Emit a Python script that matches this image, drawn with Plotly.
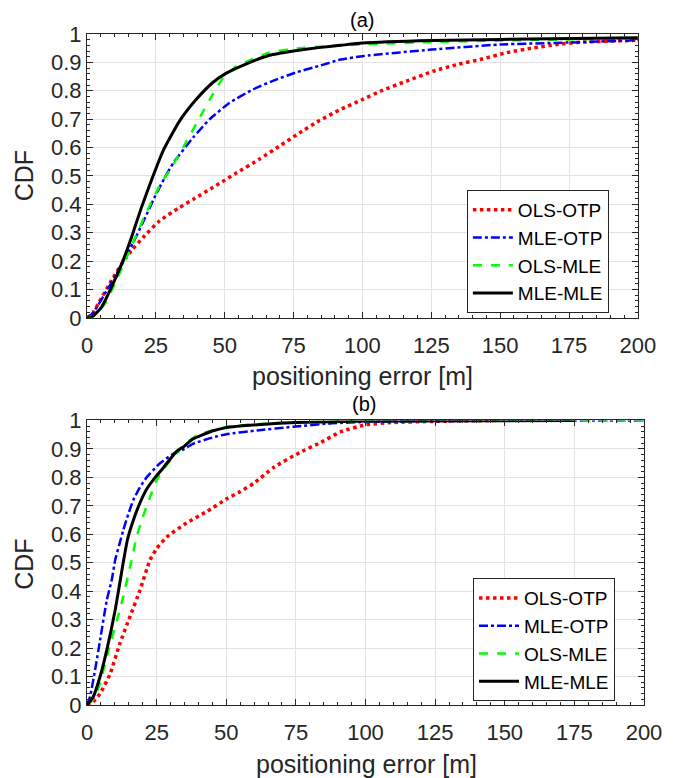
import plotly.graph_objects as go

# ---- (a) ----
a_ols_otp_x = [0, 2, 4.1, 8.9, 12.6, 16.2, 21, 26.4, 33, 39, 45.8, 50, 54.2, 62.7, 69.9, 77.2, 84.4, 91.8, 100, 106.4, 116, 125.7, 134.2, 142.7, 152.3, 162, 170.5, 179, 200]
a_ols_otp_y = [0, 0.015, 0.05, 0.132, 0.19, 0.238, 0.29, 0.342, 0.385, 0.42, 0.46, 0.485, 0.51, 0.56, 0.605, 0.652, 0.695, 0.733, 0.769, 0.798, 0.834, 0.869, 0.892, 0.91, 0.934, 0.951, 0.963, 0.971, 0.978]

a_mle_otp_x = [0, 2, 6.5, 11.4, 16.5, 20.5, 24.8, 28, 31.3, 38.5, 44.6, 51.8, 60.3, 67.5, 76, 84.4, 92, 100, 125, 150, 175, 200]
a_mle_otp_y = [0, 0.015, 0.085, 0.167, 0.26, 0.34, 0.43, 0.49, 0.545, 0.635, 0.70, 0.758, 0.805, 0.835, 0.865, 0.888, 0.91, 0.922, 0.945, 0.963, 0.97, 0.978]

a_ols_mle_x = [0, 3, 6.5, 10.1, 13.8, 17.4, 21, 25, 27.5, 30.1, 34.9, 40.9, 45.8, 49.4, 54.2, 60.3, 66.3, 75, 87, 100, 125, 150, 200]
a_ols_mle_y = [0, 0.01, 0.05, 0.12, 0.2, 0.28, 0.36, 0.44, 0.485, 0.52, 0.6, 0.705, 0.79, 0.845, 0.886, 0.912, 0.935, 0.948, 0.957, 0.963, 0.972, 0.977, 0.985]

a_mle_mle_x = [0, 1.7, 5.3, 8.9, 12.6, 16.2, 19.8, 23.6, 27.7, 33.7, 39.7, 45.8, 50.6, 57.9, 66.3, 75, 84, 92, 100, 125, 150, 200]
a_mle_mle_y = [0, 0.002, 0.038, 0.108, 0.19, 0.285, 0.39, 0.49, 0.59, 0.695, 0.77, 0.83, 0.862, 0.895, 0.925, 0.94, 0.952, 0.96, 0.968, 0.977, 0.981, 0.987]

# ---- (b) ----
b_ols_otp_x = [0, 1.5, 4.7, 8.3, 11.8, 15.4, 19, 22.6, 25, 28.6, 35.8, 43, 50.2, 55, 60, 67, 76.5, 84, 91, 100, 110, 125, 147]
b_ols_otp_y = [0, 0.005, 0.04, 0.11, 0.216, 0.31, 0.403, 0.509, 0.55, 0.59, 0.64, 0.68, 0.725, 0.75, 0.78, 0.835, 0.888, 0.923, 0.96, 0.985, 0.993, 0.997, 1.0]

b_mle_otp_x = [0, 1.1, 2.9, 4.7, 7.1, 8.9, 10.1, 11.5, 13, 14.8, 16.6, 19, 21.4, 26, 31, 35, 38, 45, 50, 61, 74, 88, 100, 125, 150, 200]
b_mle_otp_y = [0, 0.03, 0.123, 0.228, 0.368, 0.44, 0.509, 0.56, 0.614, 0.67, 0.72, 0.765, 0.80, 0.848, 0.883, 0.90, 0.918, 0.94, 0.952, 0.965, 0.978, 0.99, 0.995, 0.998, 0.999, 1.0]

b_ols_mle_x = [0, 2.3, 4.7, 7.7, 10.1, 13, 16, 17.8, 20, 22.6, 25, 27.5, 30, 35, 40, 50, 62.5, 75, 100, 150, 200]
b_ols_mle_y = [0, 0.02, 0.077, 0.193, 0.275, 0.38, 0.509, 0.59, 0.66, 0.73, 0.79, 0.83, 0.86, 0.915, 0.95, 0.977, 0.988, 0.994, 0.998, 0.999, 1.0]

b_mle_mle_x = [0, 2.3, 4.7, 7.1, 10.1, 13, 14.5, 16.3, 19, 21.5, 24.5, 27.5, 32, 35, 38, 45, 50, 62.5, 75, 100, 125, 175]
b_mle_mle_y = [0, 0.03, 0.1, 0.193, 0.333, 0.5, 0.58, 0.64, 0.71, 0.76, 0.8, 0.835, 0.89, 0.91, 0.935, 0.963, 0.975, 0.986, 0.993, 0.998, 0.999, 1.0]

x_ticks = [0, 25, 50, 75, 100, 125, 150, 175, 200]
y_ticks = [0, 0.1, 0.2, 0.3, 0.4, 0.5, 0.6, 0.7, 0.8, 0.9, 1]
y_tick_labels = ["0", "0.1", "0.2", "0.3", "0.4", "0.5", "0.6", "0.7", "0.8", "0.9", "1"]

names = ["OLS-OTP", "MLE-OTP", "OLS-MLE", "MLE-MLE"]
colors = ["#ff0000", "#0000ff", "#00ff00", "#000000"]
dashes = ["dot", "dashdot", "dash", "solid"]
widths = [3.5, 2.5, 2.5, 3]

FONT = "Liberation Sans, Arial, Helvetica, sans-serif"
INK = "#262626"

fig = go.Figure()

series_a = [(a_ols_otp_x, a_ols_otp_y), (a_mle_otp_x, a_mle_otp_y),
            (a_ols_mle_x, a_ols_mle_y), (a_mle_mle_x, a_mle_mle_y)]
series_b = [(b_ols_otp_x, b_ols_otp_y), (b_mle_otp_x, b_mle_otp_y),
            (b_ols_mle_x, b_ols_mle_y), (b_mle_mle_x, b_mle_mle_y)]

for i, (xs, ys) in enumerate(series_a):
    fig.add_trace(go.Scatter(x=xs, y=ys, mode="lines", name=names[i],
                             line=dict(color=colors[i], dash=dashes[i], width=widths[i], shape="spline", smoothing=0.5),
                             xaxis="x", yaxis="y", legend="legend"))
for i, (xs, ys) in enumerate(series_b):
    fig.add_trace(go.Scatter(x=xs, y=ys, mode="lines", name=names[i],
                             line=dict(color=colors[i], dash=dashes[i], width=widths[i], shape="spline", smoothing=0.5),
                             xaxis="x2", yaxis="y2", legend="legend2"))

def xax(domain, anchor):
    return dict(domain=domain, anchor=anchor, range=[0, 200], tickvals=x_ticks, automargin=False,
                ticks="inside", ticklen=6, tickcolor=INK, showline=True, linecolor=INK, linewidth=1,
                mirror="allticks", showgrid=True, gridcolor="#e3e3e3", gridwidth=1, zeroline=False,
                minor=dict(ticks="inside", ticklen=3, dtick=5, tickcolor=INK, showgrid=False),
                ticklabelstandoff=8,
                tickfont=dict(family=FONT, size=22, color=INK))

def yax(domain, anchor):
    return dict(domain=domain, anchor=anchor, range=[0, 1], tickvals=y_ticks, ticktext=y_tick_labels,
                automargin=False,
                ticks="inside", ticklen=6, tickcolor=INK, showline=True, linecolor=INK, linewidth=1,
                mirror="allticks", showgrid=True, gridcolor="#e3e3e3", gridwidth=1, zeroline=False,
                minor=dict(ticks="inside", ticklen=3, dtick=0.02, tickcolor=INK, showgrid=False),
                tickfont=dict(family=FONT, size=22, color=INK))

legend_style = dict(bgcolor="white", bordercolor=INK, borderwidth=1,
                    font=dict(family=FONT, size=19, color="black"),
                    xanchor="left", yanchor="top", tracegroupgap=0, itemwidth=40)

def label(text, x, y, size, angle=0, color=INK):
    return dict(text=text, x=x, y=y, xref="paper", yref="paper", xanchor="center", yanchor="middle",
                showarrow=False, textangle=angle, font=dict(family=FONT, size=size, color=color))

# the page body adds an 8px margin, so the figure is 8px smaller than the window
fig.update_layout(
    width=673, height=770,
    margin=dict(l=79, r=37, t=26, b=73),
    paper_bgcolor="white", plot_bgcolor="white",
    xaxis=xax([0, 0.989], "y"),
    yaxis=yax([0.577, 1], "x"),
    xaxis2=xax([0, 1], "y2"),
    yaxis2=yax([0, 0.424], "x2"),
    legend=dict(x=0.682, y=0.7675, **legend_style),
    legend2=dict(x=0.693, y=0.189, **legend_style),
    annotations=[
        label("(a)", 0.494, 1.0215, 20, color="black"),
        label("(b)", 0.497, 0.449, 20, color="black"),
        label("positioning error [m]", 0.494, 0.490, 25),
        label("positioning error [m]", 0.501, -0.088, 25),
        label("CDF", -0.113, 0.788, 25, angle=-90),
        label("CDF", -0.113, 0.209, 25, angle=-90),
    ],
)

fig.write_html("out.html")
